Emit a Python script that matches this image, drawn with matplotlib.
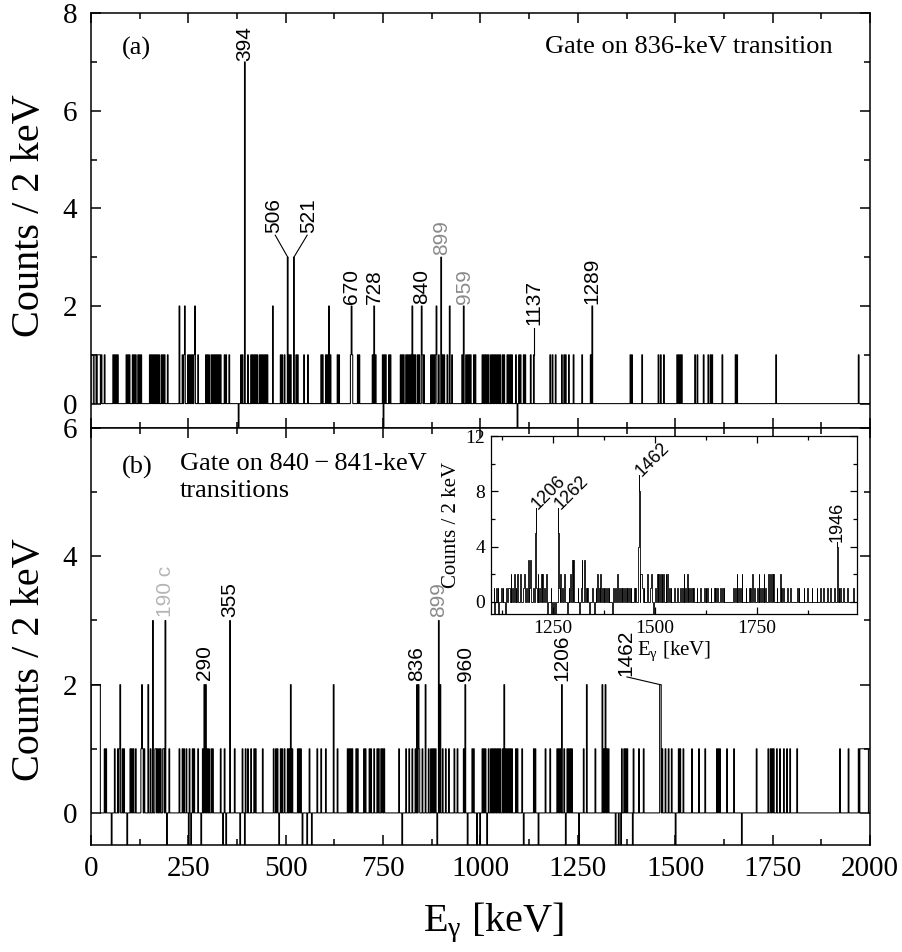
import numpy as np
import matplotlib
matplotlib.use("Agg")
import matplotlib.pyplot as plt
from matplotlib.ticker import MultipleLocator

plt.rcParams['font.family'] = ['Liberation Serif', 'DejaVu Serif']
plt.rcParams['mathtext.fontset'] = 'custom'
plt.rcParams['mathtext.rm'] = 'Liberation Serif'
plt.rcParams['mathtext.it'] = 'Liberation Serif:italic'

BIN = 2  # keV per channel

# ---- panel (a): gate on 836 keV, energies (keV) of channels by count ----
a_ones = [0, 2, 4, 10, 12, 16, 18, 20, 22, 26, 34, 56, 60, 64, 68,
          90, 94, 98, 107, 111, 115, 120, 124, 128,
          150, 154, 158, 162, 167, 171, 175, 180, 184, 188, 197,
          235, 239, 248, 252, 256, 261, 265, 274,
          295, 299, 303, 308, 312, 316, 321, 325, 329, 333, 342, 346, 355,
          385, 389, 402, 410, 415, 419, 423, 427, 432, 436, 440, 444, 449, 453,
          487, 491, 496, 509, 513, 526, 530, 547, 556,
          590, 594, 603, 607, 615, 632, 637, 667, 671, 684, 688,
          722, 731, 748, 752, 756, 765, 769,
          795, 799, 803, 808, 812, 816, 820, 829, 833, 838, 842, 850, 855,
          872, 876, 880, 885, 893, 902, 906, 915, 927,
          953, 962, 966, 970, 974, 983, 987,
          1004, 1009, 1013, 1017, 1021, 1026, 1030, 1034, 1038, 1043, 1047,
          1051, 1056, 1060, 1068, 1073, 1077, 1081, 1090, 1098, 1103, 1111,
          1115, 1128, 1136,
          1179, 1184, 1192, 1209, 1214, 1218, 1226, 1239, 1261, 1282,
          1385, 1389, 1415, 1457, 1462, 1470, 1504, 1509, 1513, 1517,
          1551, 1556, 1573, 1585, 1590, 1594, 1620, 1654, 1658, 1759, 1970]
a_twos = [227, 240, 267, 466, 610, 668, 727, 825, 848, 886, 921, 957, 1286]
a_threes = [504, 520, 898]
a_sevens = [394]
a_neg = [378, 750, 1094]

# ---- panel (b): gate on 840-841 keV ----
b_ones = [34, 38, 60, 68, 73, 81, 85, 101, 104, 109, 115, 128, 132, 137,
          152, 164, 167, 171, 175, 179, 184, 186, 201,
          226, 235, 239, 244, 252, 261, 265, 274, 286, 299, 303, 308, 312,
          333, 342, 368, 389, 397, 402, 410, 419, 423, 440,
          468, 474, 479, 487, 491, 496, 504, 509, 517, 530, 534, 538, 560,
          581, 590, 603, 632,
          658, 662, 667, 671, 680, 684, 701, 705, 714, 718, 726, 735, 739,
          744, 748, 752,
          791, 808, 816, 825, 833, 842, 850, 867, 872, 876, 880, 885, 902,
          910, 919, 932, 940, 957,
          979, 983, 1004, 1009, 1013, 1021, 1026, 1030, 1034, 1038, 1043,
          1047, 1051, 1056, 1064, 1068, 1073, 1077, 1081, 1090, 1094, 1107,
          1137, 1141, 1167, 1179, 1197, 1201, 1205, 1214, 1222, 1226, 1231,
          1235, 1265, 1295, 1316, 1325, 1329,
          1363, 1368, 1372, 1376, 1393, 1406, 1419, 1466, 1474, 1483, 1491,
          1509, 1513, 1521, 1543, 1560, 1577, 1607, 1611, 1615, 1632, 1651,
          1708, 1739, 1744, 1748, 1752, 1761, 1769, 1778, 1786, 1795, 1812,
          1923, 1944, 1970, 1974, 1976, 1978, 1980, 1982, 1984, 1986, 1988,
          1990, 1992, 1994]
b_twos = [0, 2, 4, 6, 8, 10, 12, 14, 16, 18, 20, 22, 75, 130, 147, 290, 295,
          513, 622, 836, 840, 859, 896, 961, 1060, 1208, 1273, 1312, 1320,
          1460, 1462]
b_threes = [158, 190, 357, 893]
b_neg = [53, 92, 194, 250, 256, 282, 338, 346, 383, 395, 483, 543, 554, 566,
         799, 889, 966, 991, 998, 1017, 1111, 1149, 1218, 1252, 1347, 1354,
         1360, 1391, 1500, 1670]

# ---- inset: high-energy part ----
c_ones = [1104, 1110, 1114, 1122, 1127, 1135, 1140, 1143, 1151, 1159, 1168,
          1176, 1184, 1192, 1200, 1208, 1216, 1228, 1244, 1265, 1273, 1285,
          1289, 1301, 1310, 1318, 1330, 1334, 1346, 1354, 1363, 1371, 1375,
          1379, 1383, 1387, 1395, 1399, 1403, 1412, 1416, 1420, 1424, 1428,
          1432, 1436, 1440, 1448, 1452, 1469, 1473, 1489, 1501, 1534, 1538,
          1546, 1554, 1562, 1567, 1575, 1583, 1587, 1591, 1595, 1603, 1611,
          1620, 1624, 1628, 1636, 1644, 1648, 1652, 1660, 1664, 1668, 1693,
          1697, 1705, 1709, 1722, 1730, 1734, 1742, 1750, 1758, 1762, 1771,
          1799, 1811, 1815, 1824, 1832, 1848, 1852, 1864, 1873, 1885, 1897,
          1905, 1913, 1922, 1930, 1938, 1950, 1954, 1962, 1970, 1987]
c_twos = [1146, 1154, 1163, 1171, 1179, 1213, 1220, 1224, 1232, 1269, 1277,
          1293, 1358, 1367, 1406, 1464, 1466, 1481, 1491, 1505, 1509, 1513,
          1517, 1521, 1526, 1530, 1570, 1579, 1701, 1713, 1738, 1754, 1766,
          1779, 1783, 1787, 1791, 1807]
c_threes = [1189, 1194, 1297, 1301, 1320, 1326]
c_fours = [1458, 1946]
c_fives = [1206, 1262]
c_eights = [1461]
c_neg = [1106, 1117, 1132, 1236, 1246, 1250, 1254, 1284, 1314, 1338, 1350,
         1394, 1496]


def build(levels, lo, hi):
    edges = np.arange(lo, hi + BIN, BIN)
    counts = np.zeros(len(edges) - 1)
    for value, energies in levels:
        for e in energies:
            k = int((e - lo) // BIN)
            if 0 <= k < len(counts):
                counts[k] = value
    return edges, counts


def style(ax, lw=1.1, major=7, minor=4, size=21):
    ax.tick_params(which='both', direction='in', top=True, right=True, width=lw)
    ax.tick_params(which='major', length=major, labelsize=size)
    ax.tick_params(which='minor', length=minor)
    for s in ax.spines.values():
        s.set_linewidth(lw)


def peak_label(ax, x, y, text, color='black', size=15):
    ax.text(x, y, text, rotation=90, ha='center', va='bottom', color=color,
            fontsize=size, family=['Liberation Sans', 'DejaVu Sans'])


fig = plt.figure(figsize=(9.02, 9.52), dpi=100)
ax1 = fig.add_axes([0.1009, 0.5504, 0.8636, 0.4359])
ax2 = fig.add_axes([0.1009, 0.1124, 0.8636, 0.4380])

edges, ca = build([(1, a_ones), (-1, a_neg), (2, a_twos), (3, a_threes),
                   (7, a_sevens)], 0, 2000)
ax1.stairs(ca, edges, color='black', lw=0.75)
edges, cb = build([(1, b_ones), (-1, b_neg), (2, b_twos), (3, b_threes)], 0, 2000)
ax2.stairs(cb, edges, color='black', lw=0.75)

for ax, ytop in ((ax1, 8), (ax2, 6)):
    ax.set_xlim(0, 2000)
    ax.set_ylim(-0.5, ytop)
    ax.xaxis.set_major_locator(MultipleLocator(250))
    ax.xaxis.set_minor_locator(MultipleLocator(125))
    ax.yaxis.set_major_locator(MultipleLocator(2))
    ax.yaxis.set_minor_locator(MultipleLocator(1))
    style(ax)
    ax.tick_params(axis='y', pad=10)
ax1.tick_params(labelbottom=False)
ax2.tick_params(axis='x', pad=8)

# panel (a) annotations
ax1.text(0.04, 0.915, '(a)', transform=ax1.transAxes, fontsize=19, va='center')
ax1.text(0.9525, 0.918, 'Gate on 836-keV transition', transform=ax1.transAxes,
         fontsize=19, ha='right', va='center')
peak_label(ax1, 394, 7.02, '394')
peak_label(ax1, 468, 3.5, '506')
peak_label(ax1, 560, 3.5, '521')
ax1.plot([505, 473], [3.0, 3.45], color='black', lw=0.8)
ax1.plot([521, 555], [3.0, 3.45], color='black', lw=0.8)
peak_label(ax1, 669, 2.05, '670')
peak_label(ax1, 728, 2.05, '728')
peak_label(ax1, 849, 2.05, '840')
peak_label(ax1, 899, 3.05, '899', color='#8a8a8a')
peak_label(ax1, 958, 2.05, '959', color='#8a8a8a')
ax1.plot([1137, 1137], [1.0, 1.55], color='black', lw=0.8)
peak_label(ax1, 1137, 1.6, '1137')
peak_label(ax1, 1287, 2.05, '1289')

# panel (b) annotations
ax2.text(0.04, 0.905, '(b)', transform=ax2.transAxes, fontsize=19, va='center')
ax2.text(0.114, 0.94, 'Gate on 840\u2009\u2212\u2009841-keV\ntransitions',
         transform=ax2.transAxes, fontsize=19, ha='left', va='top',
         linespacing=1.3)
peak_label(ax2, 190, 3.05, '190 c', color='#b5b5b5')
peak_label(ax2, 291, 2.07, '290')
peak_label(ax2, 357, 3.05, '355')
peak_label(ax2, 837, 2.05, '836')
peak_label(ax2, 893, 3.05, '899', color='#8a8a8a')
peak_label(ax2, 961, 2.05, '960')
peak_label(ax2, 1208, 2.05, '1206')
peak_label(ax2, 1372, 2.13, '1462')
ax2.plot([1376, 1461], [2.12, 2.0], color='black', lw=0.8)

fig.text(0.033, 0.774, 'Counts / 2 keV', rotation=90, ha='center', va='center',
         fontsize=29)
fig.text(0.033, 0.307, 'Counts / 2 keV', rotation=90, ha='center', va='center',
         fontsize=29)
fig.text(0.547, 0.031, r'E$_\mathrm{\gamma}$ [keV]', ha='center', va='center',
         fontsize=29)

# inset
axin = fig.add_axes([0.544, 0.3547, 0.4065, 0.1873])
edges, cc = build([(1, c_ones), (-1, c_neg), (2, c_twos), (3, c_threes),
                   (4, c_fours), (5, c_fives), (8, c_eights)], 1090, 2000)
axin.stairs(cc, edges, color='black', lw=0.6)
axin.set_xlim(1097, 1996)
axin.set_ylim(-0.9, 12)
axin.xaxis.set_major_locator(MultipleLocator(250))
axin.xaxis.set_minor_locator(MultipleLocator(125))
axin.yaxis.set_major_locator(MultipleLocator(4))
axin.yaxis.set_minor_locator(MultipleLocator(2))
style(axin, lw=0.9, major=5, minor=3, size=14)
axin.tick_params(pad=4)
axin.set_ylabel('Counts / 2 keV', fontsize=15, labelpad=3)
axin.set_xlabel(r'E$_\mathrm{\gamma}$ [keV]', fontsize=15, labelpad=2)

for x, y0, y1 in ((1207, 5, 6.8), (1263, 5, 6.8), (1461, 8, 9.2)):
    axin.plot([x, x], [y0, y1], color='black', lw=0.7)
axin.text(1205, 6.9, '1206', rotation=45, rotation_mode='anchor', ha='left',
          va='center', fontsize=13, family=['Liberation Sans', 'DejaVu Sans'])
axin.text(1261, 6.9, '1262', rotation=45, rotation_mode='anchor', ha='left',
          va='center', fontsize=13, family=['Liberation Sans', 'DejaVu Sans'])
axin.text(1459, 9.3, '1462', rotation=45, rotation_mode='anchor', ha='left',
          va='center', fontsize=13, family=['Liberation Sans', 'DejaVu Sans'])
axin.plot([1947, 1947], [4, 4.3], color='black', lw=0.7)
peak_label(axin, 1947, 4.3, '1946', size=13)

fig.savefig('out.png', dpi=100)
